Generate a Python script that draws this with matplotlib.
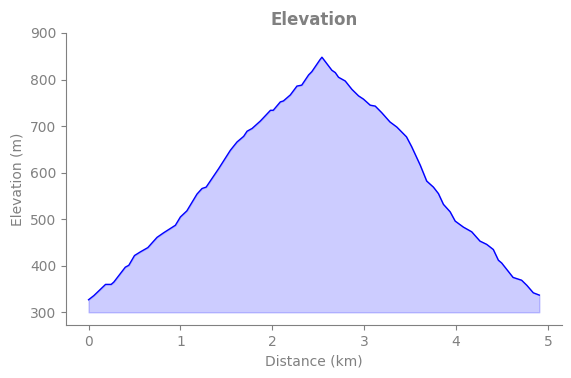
import matplotlib.pyplot as plt
import numpy as np

""" Elevation profile read off the picture """
distance = [0.0, 0.058, 0.185, 0.246, 0.275, 0.40, 0.438, 0.50, 0.565, 0.645,
            0.745, 0.818, 0.945, 1.0, 1.07, 1.18, 1.235, 1.28, 1.417, 1.543,
            1.616, 1.688, 1.725, 1.78, 1.87, 1.98, 2.01, 2.087, 2.12, 2.196,
            2.268, 2.32, 2.395, 2.43, 2.52, 2.54, 2.648, 2.685, 2.72, 2.793,
            2.866, 2.938, 2.992, 3.065, 3.12, 3.19, 3.28, 3.355, 3.46, 3.516,
            3.61, 3.68, 3.753, 3.808, 3.862, 3.935, 3.99, 4.08, 4.17, 4.26,
            4.333, 4.405, 4.46, 4.496, 4.62, 4.713, 4.77, 4.84, 4.906]
elevation = [327, 336, 360, 360, 365, 397, 401, 422, 430, 439,
             461, 471, 487, 505, 518, 554, 566, 569, 609, 648,
             666, 678, 689, 695, 711, 734, 734, 752, 754, 767,
             786, 788, 810, 817, 843, 848, 820, 815, 805, 797,
             779, 765, 758, 745, 743, 729, 709, 698, 677, 656,
             616, 582, 569, 555, 532, 516, 496, 483, 473, 453,
             446, 435, 412, 406, 375, 369, 358, 342, 337]
base = 300
grey = '#808080'

fig = plt.figure(figsize=(5.71, 3.78), dpi=100)
ax = fig.add_axes([0.1156, 0.140, 0.8684, 0.7727])

ax.plot(distance, elevation, color='blue', lw=1)
ax.fill_between(distance, elevation, base, color='blue', alpha=0.2)

ax.set_ylim(272.6, 900)
ax.set_title('Elevation', fontsize=12, fontweight='bold', color=grey)
ax.set_xlabel('Distance (km)', color=grey)
ax.set_ylabel('Elevation (m)', color=grey)

for s in ['top', 'right']:
    ax.spines[s].set_visible(False)
for s in ['left', 'bottom']:
    ax.spines[s].set_color(grey)
ax.tick_params(colors=grey)

plt.savefig('out.png', dpi=100)
